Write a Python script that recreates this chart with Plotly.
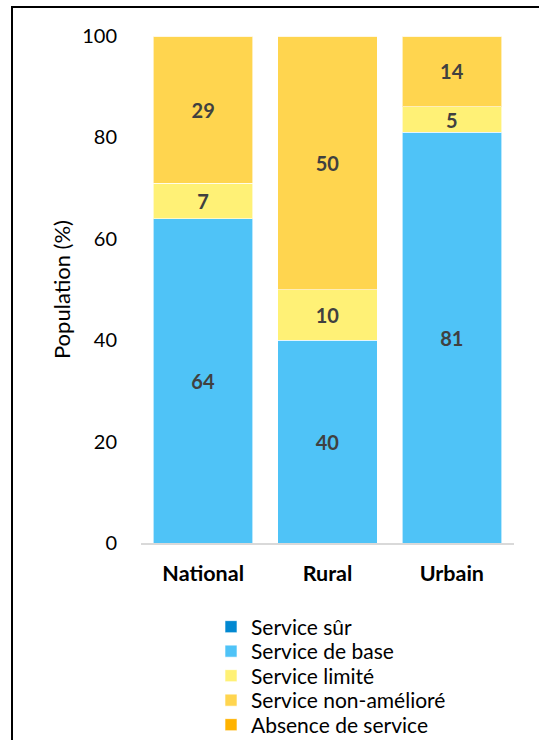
import plotly.graph_objects as go

categories = ["National", "Rural", "Urbain"]
series_names = ["Service sûr", "Service de base", "Service limité", "Service non-amélioré", "Absence de service"]
service_sur = [0, 0, 0]
service_base = [64, 40, 81]
service_limite = [7, 10, 5]
service_non_ameliore = [29, 50, 14]
absence_service = [0, 0, 0]
y_ticks = [0, 20, 40, 60, 80, 100]

colors = ["#0288D1", "#4FC3F7", "#FFF176", "#FFD54F", "#FFB300"]
values = [service_sur, service_base, service_limite, service_non_ameliore, absence_service]

FONT = "Lato"
L, R, T, B = 141, 25, 36, 197
W, H = 539, 740
pw, ph = W - L - R, H - T - B


def px_x(p):
    return (p - L) / pw


def px_y(p):
    return (H - B - p) / ph


legend_rows = [627, 651.5, 676, 700.5, 725]
legend_ids = ["legend", "legend2", "legend3", "legend4", "legend5"]

fig = go.Figure()
for name, vals, col, lid in zip(series_names, values, colors, legend_ids):
    fig.add_trace(go.Bar(
        x=categories, y=vals, name=name, legend=lid,
        marker=dict(color=col, line=dict(color="rgba(255,255,255,0.6)", width=1)),
        text=[str(v) if v else "" for v in vals],
        textposition="inside", insidetextanchor="middle",
        textangle=0, constraintext="none",
        textfont=dict(family=FONT, size=20, color="#404040", weight="bold"),
        hoverinfo="skip",
    ))

legend_layout = {}
for lid, row in zip(legend_ids, legend_rows):
    legend_layout[lid] = dict(
        x=px_x(211), y=px_y(row), xanchor="left", yanchor="middle",
        font=dict(family=FONT, size=21, color="#000000"),
        itemwidth=30, bgcolor="rgba(0,0,0,0)", borderwidth=0,
    )

fig.update_layout(
    width=W, height=H,
    margin=dict(l=L, r=R, t=T, b=B, autoexpand=False),
    barmode="stack", bargap=0.2,
    plot_bgcolor="white", paper_bgcolor="white",
    font=dict(family=FONT, size=20, color="#000000"),
    showlegend=True,
    xaxis=dict(
        showline=True, linecolor="#D9D9D9", linewidth=1.5,
        ticks="", showgrid=False, ticklabelstandoff=10,
        tickfont=dict(family=FONT, size=21.5, color="#000000", weight="bold"),
    ),
    yaxis=dict(
        range=[0, 100], tickvals=y_ticks, showgrid=False, zeroline=False,
        showline=False, ticks="", ticklabelstandoff=23,
        title=dict(text="Population (%)", font=dict(family=FONT, size=22, color="#000000"), standoff=5),
        tickfont=dict(family=FONT, size=20, color="#000000"),
    ),
    shapes=[
        dict(type="line", xref="paper", yref="paper",
             x0=px_x(12), x1=px_x(12), y0=px_y(800), y1=px_y(6),
             line=dict(color="#000000", width=2), layer="above"),
        dict(type="line", xref="paper", yref="paper",
             x0=px_x(11), x1=px_x(600), y0=px_y(7), y1=px_y(7),
             line=dict(color="#000000", width=2), layer="above"),
    ],
    **legend_layout,
)

fig.write_html(
    "out.html",
    config={"displayModeBar": False},
    post_script="document.body.style.margin='0';document.body.style.overflow='hidden';",
)
